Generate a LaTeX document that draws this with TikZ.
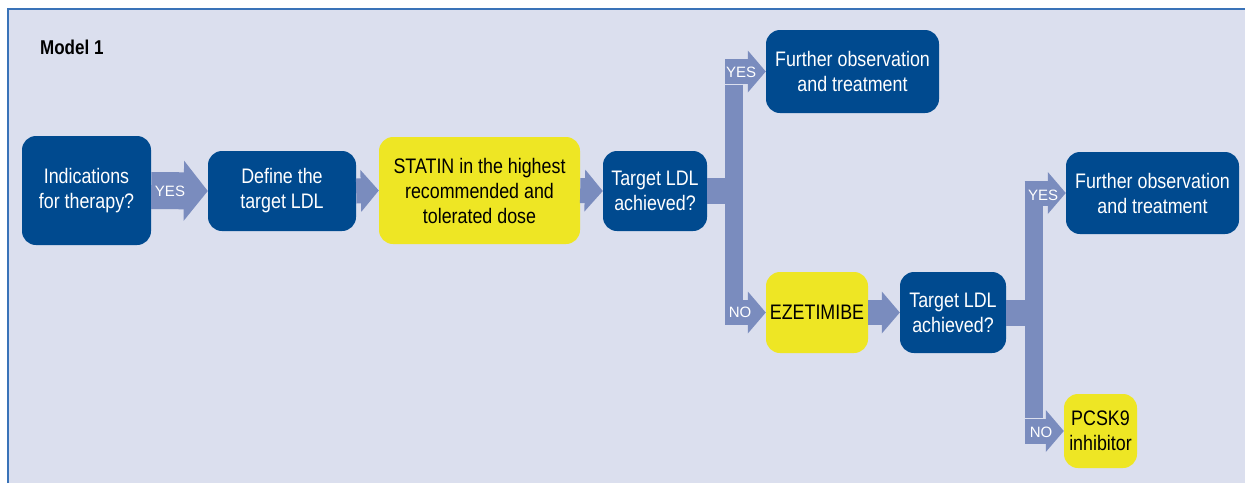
\documentclass[tikz,border=0pt]{standalone}
\usepackage{fontspec}
\setmainfont{Liberation Sans}
\newfontfamily\condfont[FakeStretch=0.85]{Liberation Sans}
\usetikzlibrary{arrows.meta}
\definecolor{bgc}{HTML}{DBDFEE}
\definecolor{bluec}{HTML}{004A8F}
\definecolor{arrowc}{HTML}{7A8CBE}
\definecolor{yellowc}{HTML}{EEE624}
\definecolor{borderc}{HTML}{3A73B8}
\tikzset{
  box/.style={rounded corners=14pt, inner sep=0pt, align=center,
    font=\condfont\fontsize{21}{25}\selectfont},
  bluebox/.style={box, fill=bluec, text=white},
  yellowbox/.style={box, fill=yellowc, text=black},
  arr/.style={draw=arrowc, line width=25pt, -{Triangle[width=41pt,length=18pt]}},
  bigarr/.style={draw=arrowc, line width=37pt, -{Triangle[width=59pt,length=24pt]}},
  bar/.style={draw=arrowc, line width=18pt},
  lab/.style={text=white, font=\fontsize{15}{17}\selectfont, inner sep=0pt},
}
\begin{document}
\begin{tikzpicture}[x=1pt,y=-1pt]
\useasboundingbox (0,0) rectangle (1245,483);
\fill[white] (0,0) rectangle (1245,483);
\fill[bgc] (8,9) rectangle (1245,483);
\draw[borderc, line width=2pt] (8,483) -- (8,9) -- (1245,9);

\node[inner sep=0pt, anchor=west, font=\condfont\bfseries\fontsize{20}{22}\selectfont] (title) at (40,47) {Model 1};

\node[bluebox, minimum width=129pt, minimum height=109pt] (n1) at (86.5,190.5) {Indications\\for therapy?};
\node[bluebox, minimum width=148pt, minimum height=80pt] (n2) at (282,191) {Define the\\target LDL};
\node[yellowbox, minimum width=201pt, minimum height=107pt] (n3) at (479.5,190.5) {STATIN in the highest\\recommended and\\tolerated dose};
\node[bluebox, minimum width=104pt, minimum height=80pt] (n4) at (655,191) {Target LDL\\achieved?};
\node[bluebox, minimum width=173pt, minimum height=83pt] (f1) at (852.5,71.5) {Further observation\\and treatment};
\node[yellowbox, minimum width=102pt, minimum height=81pt] (ez) at (817,312.5) {EZETIMIBE};
\node[bluebox, minimum width=106pt, minimum height=81pt] (n5) at (953,312.5) {Target LDL\\achieved?};
\node[bluebox, minimum width=173pt, minimum height=82pt] (f2) at (1152.5,193) {Further observation\\and treatment};
\node[yellowbox, minimum width=73pt, minimum height=74pt] (pc) at (1100.5,431) {PCSK9\\inhibitor};

% straight arrows
\draw[bigarr] (n1.east) -- (n2.west);
\draw[arr] (n2.east) -- (n3.west);
\draw[arr] (n3.east) -- (n4.west);
\draw[arr] (ez.east) -- (n5.west);

% branch 1
\coordinate (b1) at (734,0);
\coordinate (b1l) at (725,0);
\draw[draw=arrowc, line width=26pt] (n4.east) -- (b1 |- n4.east);
\draw[bar] ([yshift=-13pt]b1 |- f1.west) -- ([yshift=13pt]b1 |- ez.west);
\draw[arr] (b1l |- f1.west) -- (f1.west);
\draw[arr] (b1l |- ez.west) -- (ez.west);

% branch 2
\coordinate (b2) at (1033.5,0);
\coordinate (b2l) at (1024.5,0);
\draw[draw=arrowc, line width=26pt] (n5.east) -- (b2 |- n5.east);
\draw[bar] ([yshift=-13pt]b2 |- f2.west) -- ([yshift=13pt]b2 |- pc.west);
\draw[arr] (b2l |- f2.west) -- (f2.west);
\draw[arr] (b2l |- pc.west) -- (pc.west);

% labels
\node[lab] (l1) at (170,191) {YES};
\node[lab] (l2) at (741,72) {YES};
\node[lab] (l3) at (740,312) {NO};
\node[lab] (l4) at (1043,195) {YES};
\node[lab] (l5) at (1041,432) {NO};
\end{tikzpicture}
\end{document}
